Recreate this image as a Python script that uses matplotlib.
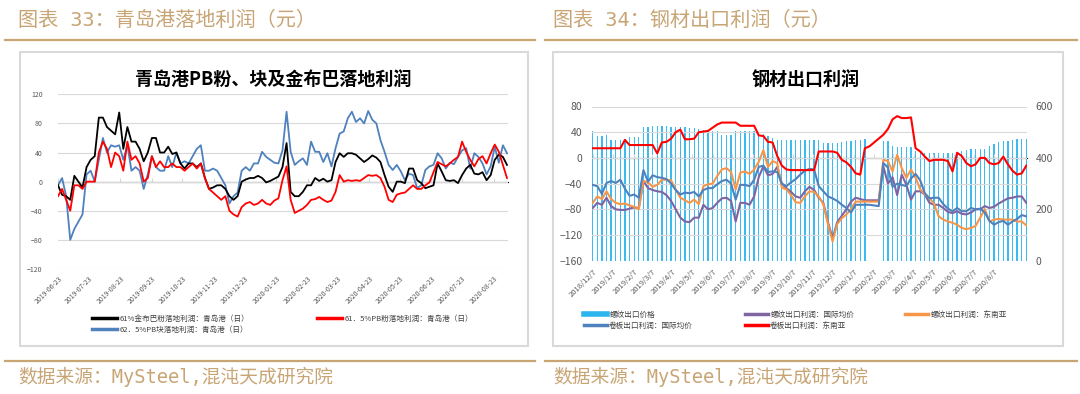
import numpy as np
import pandas as pd
import matplotlib
matplotlib.use("Agg")
import matplotlib.pyplot as plt
from matplotlib.lines import Line2D
from matplotlib.patches import Rectangle

plt.rcParams['font.family'] = ['Noto Sans CJK SC', 'DejaVu Sans']

# ---------------- left chart data (every 4 days from 2019-06-23) ----------------
left_dates = pd.date_range("2019-06-23", periods=111, freq="4D")
left_ticks = pd.date_range("2019-06-23", "2020-08-23", freq=pd.DateOffset(months=1))

jbb_profit = [-5, -18, -20, -25, 8, 0, -8, 20, 30, 35, 88, 88, 75, 70, 65, 95, 45, 75, 55, 55,
              45, 28, 40, 60, 60, 40, 40, 48, 38, 40, 25, 18, 25, 25, 20, 25, 5, -10, -8, -5,
              -5, -10, -20, -25, -20, 0, 3, 5, 5, 8,
              5, -1, 1, 4, 7, 20, 53, -14, -20, -20, -14, -5, -5, 5, 1, 4, 0, 2, 27, 39,
              34, 39, 39, 37, 32, 27, 31, 36, 33, 27, 9, -7, -14, 0, 0, -2, 18, 18, 2, -2,
              -9, -7, -5, 25, 14, 2, 1, 2, -2, 9, 18, 23, 11, 10, 13, 2, 9, 30, 37, 34, 23]
pb_fines_profit = [-20, -10, -25, -40, -5, -5, -10, 0, 0, 0, 40, 55, 45, 20, 40, 35, 15, 55, 30, 35,
                   25, 0, 5, 35, 20, 28, 20, 20, 25, 20, 20, 15, 20, 25, 18, 25, 5, -10, -15, -20,
                   -25, -20, -40, -45, -48, -35, -30, -28, -32, -30,
                   -25, -30, -32, -26, -23, 2, 21, -25, -43, -40, -37, -32, -25, -24, -21, -25, -28, -26, -14, 9,
                   0, 2, 1, 2, 1, 5, 9, 8, 9, 5, -7, -25, -28, -18, -16, -15, -10, -5, -10, -10,
                   -5, -1, 13, 27, 24, 21, 25, 30, 34, 55, 41, 30, 21, 31, 35, 25, 39, 51, 41, 23, 5]
pb_lump_profit = [-5, 5, -20, -80, -65, -55, -45, 10, 15, 0, 30, 60, 40, 50, 48, 50, 30, 50, 15, 20,
                  15, -10, 10, 35, 20, 15, 15, 35, 20, 40, 25, 28, 25, 35, 45, 50, 15, 15, 18, 15,
                  5, -5, -30, -20, -15, 15, 20, 15, 25, 25,
                  41, 34, 30, 26, 25, 43, 96, 41, 23, 28, 32, 23, 55, 41, 41, 27, 39, 21, 46, 66,
                  69, 87, 96, 82, 87, 80, 97, 85, 80, 57, 41, 23, 16, 23, 14, 2, 11, 9, -9, -5,
                  16, 21, 23, 39, 32, 18, 26, 24, 34, 43, 46, 18, 39, 34, 25, 10, 21, 48, 26, 50, 39]

# ---------------- right chart data (weekly from 2018-12-07) ----------------
right_dates = pd.date_range("2018-12-07", periods=95, freq="7D")
right_ticks = pd.date_range("2018-12-07", "2020-08-07", freq=pd.DateOffset(months=1))

rebar_price = [503, 486, 486, 490, 470, 470, 470, 470, 482, 482,
               482, 521, 521, 526, 526, 526, 526, 519, 519, 519,
               519, 516, 516, 512, 510, 508, 503, 503, 490, 490,
               490, 506, 506, 506, 506, 503, 499, 493, 486, 476,
               470, 470, 470, 470, 470, 470, 470, 470,
               470, 470, 458, 458, 458, 458, 462, 464, 466, 468, 470, 473,
               np.nan, np.nan, np.nan,
               467, 467, 448, 441, 443, 443, 441, 428, 422, 418,
               418, 418, 418, 418, 418, 418, 420, 425, 430, 435,
               435, 435, 435, 448, 454, 460, 464, 466, 470, 473, 473, 473]
rebar_intl = [-78, -70, -73, -62, -75, -80, -81, -81, -79, -77, -78, -36, -47, -50, -52, -53,
              -58, -67, -80, -93, -99, -100, -93, -93, -73, -80, -78, -70, -63, -62, -67, -99,
              -70, -70, -73, -60, -30, -13, -27, -25, -14, -40, -47, -53, -60, -62, -52, -45,
              -50, -62, -70, -100, -125, -100, -90, -80, -68, -62, -64, -66, -66, -66, -66,
              -13, -40, -30, -58, -26, -42, -65, -52, -52, -57, -70, -73, -73, -78, -84, -86,
              -83, -87, -88, -85, -80, -80, -75, -78, -76, -71, -67, -63, -62, -60, -60, -70]
rebar_sea = [-70, -60, -64, -52, -64, -70, -72, -71, -74, -76, -80, -36, -38, -45, -42, -34,
             -34, -35, -49, -62, -66, -70, -65, -72, -44, -41, -40, -28, -18, -16, -22, -49,
             -23, -21, -25, -18, -6, 12, -14, -5, -8, -46, -49, -58, -69, -70, -60, -52,
             -53, -60, -72, -103, -130, -103, -94, -88, -80, -68, -68, -68, -68, -68, -68,
             -3, -5, -21, 5, -16, -31, -18, -31, -49, -57, -62, -72, -91, -96, -99, -101,
             -104, -109, -111, -109, -106, -93, -80, -99, -96, -95, -96, -96, -96, -99, -99, -105]
coil_intl = [-42, -44, -56, -39, -36, -39, -34, -48, -59, -57, -62, -19, -37, -27, -30, -31,
             -33, -40, -50, -57, -54, -55, -53, -60, -50, -47, -47, -41, -36, -34, -40, -65,
             -42, -42, -44, -34, -14, -12, -22, -21, -22, -40, -44, -38, -33, -26, -20, -17,
             -18, -44, -52, -60, -63, -67, -73, -78, -85, -73, -73, -73, -73, -74, -75,
             -8, -15, -45, -40, -42, -44, -32, -25, -35, -55, -63, -62, -62, -72, -79, -83,
             -78, -83, -83, -78, -80, -79, -85, -98, -104, -100, -98, -104, -99, -95, -89, -91]
coil_sea = [15, 15, 15, 15, 15, 15, 15, 28, 20, 20, 20, 20, 20, 20, 7, 24,
            25, 30, 40, 44, 29, 29, 30, 40, 41, 42, 47, 52, 55, 55, 55, 55,
            50, 50, 50, 50, 35, 34, 25, 24, 3, -12, -18, -19, -19, -19, -19, -19,
            -19, 10, 10, 10, 10, 8, -3, -7, -14, -24, -26, 15, 18, 24, 30,
            36, 45, 60, 65, 62, 62, 63, 15, 10, 2, -5, -3, -3, -3, -5, -21,
            8, 3, -8, -13, -10, 0, 0, -8, -10, -8, 2, -10, -20, -26, -24, -12]

TAN = '#C8A575'
GRID = '#D9D9D9'
TICK = '#595959'
W, H = 1080, 394
PAGE_FONT = ['DejaVu Sans Mono', 'Noto Sans CJK SC']


def fx(px):
    return px / W


def fy(py):
    return 1 - py / H


fig = plt.figure(figsize=(10.8, 3.94), dpi=100)

# page headers / footers
fig.text(fx(18), fy(20), '图表 33：青岛港落地利润（元）', fontsize=14.5, color=TAN, va='center',
         family=PAGE_FONT)
fig.text(fx(553), fy(20), '图表 34：钢材出口利润（元）', fontsize=14.5, color=TAN, va='center',
         family=PAGE_FONT)
fig.text(fx(18), fy(377), '数据来源：MySteel,混沌天成研究院', fontsize=13.5, color=TAN, va='center',
         family=PAGE_FONT)
fig.text(fx(553), fy(377), '数据来源：MySteel,混沌天成研究院', fontsize=13.5, color=TAN, va='center',
         family=PAGE_FONT)
for x0, x1 in [(5, 535), (545, 1077)]:
    for yy in (40, 361):
        fig.add_artist(Line2D([fx(x0), fx(x1)], [fy(yy), fy(yy)], color=TAN, lw=1.6))

# chart frames
for x0, x1 in [(20, 528), (553, 1063)]:
    fig.add_artist(Rectangle((fx(x0), fy(346)), fx(x1 - x0), (346 - 52) / H,
                             fill=False, edgecolor=GRID, lw=1.5))

# ---------------- left chart ----------------
ax1 = fig.add_axes([fx(58), fy(269), fx(450), 174.7 / H])
ax1.plot(left_dates, pb_lump_profit, color='#4F81BD', lw=1.3)
ax1.plot(left_dates, jbb_profit, color='black', lw=1.3)
ax1.plot(left_dates, pb_fines_profit, color='#FF0000', lw=1.3)
ax1.set_ylim(-120, 120)
ax1.set_yticks(np.arange(-120, 121, 40))
ax1.set_xlim(left_dates[0], left_dates[0] + pd.Timedelta(days=441))
ax1.set_xticks(left_ticks)
ax1.set_xticklabels([d.strftime('%Y-%m-%d') for d in left_ticks], rotation=45, ha='right',
                    rotation_mode='anchor', fontsize=5, color=TICK)
ax1.tick_params(axis='x', length=0, pad=4)
ax1.tick_params(axis='y', length=0, pad=11, labelsize=5, labelcolor=TICK)
ax1.grid(axis='y', color=GRID, lw=0.8)
ax1.set_axisbelow(True)
for s in ax1.spines.values():
    s.set_visible(False)
sec1 = ax1.secondary_xaxis(0.5)
sec1.set_xticks(left_ticks)
sec1.set_xticklabels([])
sec1.tick_params(length=3, color=GRID, width=0.8)
sec1.spines['bottom'].set_color(GRID)
sec1.spines['bottom'].set_linewidth(0.8)

fig.text(fx(273), fy(79), '青岛港PB粉、块及金布巴落地利润', fontsize=13, weight='bold',
         ha='center', va='center')

leg_kw = dict(frameon=False, fontsize=5.5, handlelength=3.3, handletextpad=0.3,
              labelspacing=0.35, borderaxespad=0, borderpad=0, labelcolor='#404040')
fig.legend(handles=[Line2D([], [], color='black', lw=2.5),
                    Line2D([], [], color='#4F81BD', lw=2.5)],
           labels=['61%金布巴粉落地利润：青岛港（日）', '62．5%PB块落地利润：青岛港（日）'],
           loc='upper left', bbox_to_anchor=(fx(92), fy(315)), **leg_kw)
fig.legend(handles=[Line2D([], [], color='#FF0000', lw=2.5)],
           labels=['61．5%PB粉落地利润：青岛港（日）'],
           loc='upper left', bbox_to_anchor=(fx(317), fy(315)), **leg_kw)

# ---------------- right chart ----------------
ax2 = fig.add_axes([fx(592), fy(260.7), fx(435), 154.2 / H])
axb = ax2.twinx()
axb.bar(right_dates, rebar_price, width=2.0, color='#3DBBF0', linewidth=0)
axb.set_ylim(0, 600)
axb.set_yticks([0, 200, 400, 600])
axb.tick_params(axis='y', length=0, pad=6, labelsize=7.5, labelcolor=TICK)
ax2.set_zorder(axb.get_zorder() + 1)
ax2.patch.set_visible(False)

ax2.plot(right_dates, rebar_intl, color='#8064A2', lw=1.5)
ax2.plot(right_dates, rebar_sea, color='#F79646', lw=1.5)
ax2.plot(right_dates, coil_intl, color='#4F81BD', lw=1.5)
ax2.plot(right_dates, coil_sea, color='#FF0000', lw=1.5)
ax2.set_ylim(-160, 80)
ax2.set_yticks(np.arange(-160, 81, 40))
xmin = right_dates[0] - pd.Timedelta(days=1)
xmax = right_dates[-1] + pd.Timedelta(days=1)
ax2.set_xlim(xmin, xmax)
ax2.set_xticks(right_ticks)
ax2.set_xticklabels([f'{d.year}/{d.month}/{d.day}' for d in right_ticks], rotation=45, ha='right',
                    rotation_mode='anchor', fontsize=5.5, color=TICK)
ax2.tick_params(axis='x', length=0, pad=5)
ax2.tick_params(axis='y', length=0, pad=7, labelsize=7.5, labelcolor=TICK)
ax2.grid(axis='y', color=GRID, lw=0.8)
for a in (ax2, axb):
    for s in a.spines.values():
        s.set_visible(False)
sec2 = ax2.secondary_xaxis(160 / 240)
sec2.set_xticks(right_ticks)
sec2.set_xticklabels([])
sec2.tick_params(length=3, color=GRID, width=0.8)
sec2.spines['bottom'].set_color(GRID)
sec2.spines['bottom'].set_linewidth(0.8)

fig.text(fx(806), fy(80), '钢材出口利润', fontsize=13, weight='bold', ha='center', va='center')

leg_kw2 = dict(leg_kw)
leg_kw2['handlelength'] = 3.0
fig.legend(handles=[Line2D([], [], color='#2CB5EE', lw=4), Line2D([], [], color='#4F81BD', lw=2.5)],
           labels=['螺纹出口价格', '卷板出口利润：国际均价'],
           loc='upper left', bbox_to_anchor=(fx(584), fy(311)), **leg_kw2)
fig.legend(handles=[Line2D([], [], color='#8064A2', lw=2.5), Line2D([], [], color='#FF0000', lw=2.5)],
           labels=['螺纹出口利润：国际均价', '卷板出口利润：东南亚'],
           loc='upper left', bbox_to_anchor=(fx(745), fy(311)), **leg_kw2)
fig.legend(handles=[Line2D([], [], color='#F79646', lw=2.5)],
           labels=['螺纹出口利润：东南亚'],
           loc='upper left', bbox_to_anchor=(fx(905), fy(311)), **leg_kw2)

fig.savefig('out.png', dpi=100)
